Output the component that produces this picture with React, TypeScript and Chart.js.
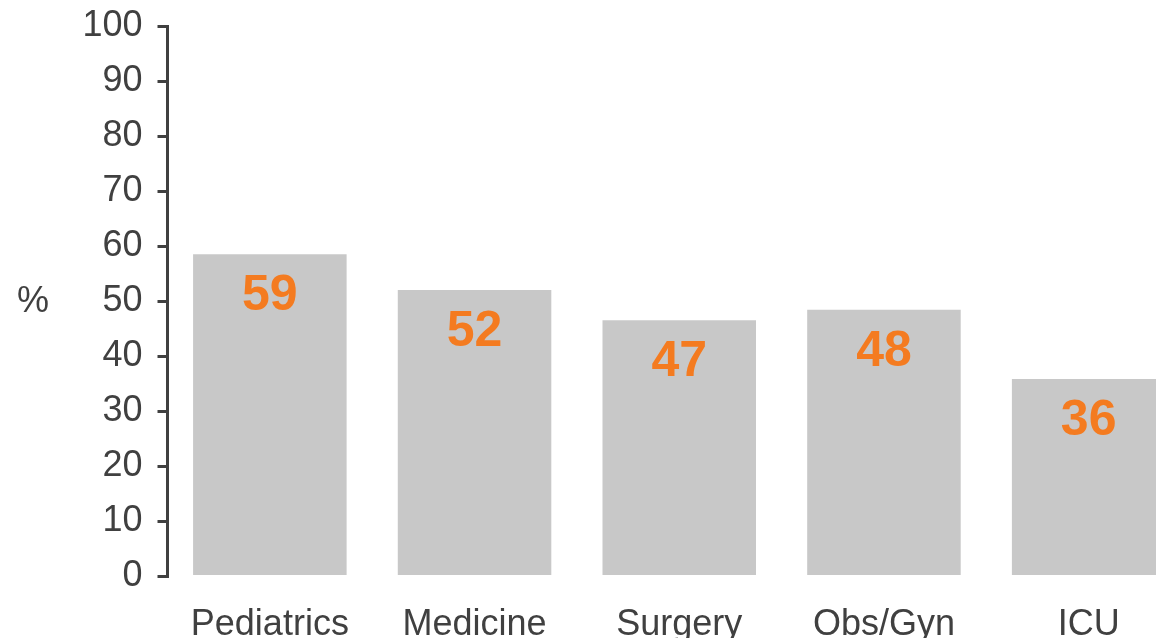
import React, { useEffect, useRef } from "react";
import { Chart, registerables } from "chart.js";

Chart.register(...registerables);

const categories = ["Pediatrics", "Medicine", "Surgery", "Obs/Gyn", "ICU"];
const values = [58.6, 52.1, 46.6, 48.5, 35.9];
const valueLabels = ["59", "52", "47", "48", "36"];
const yTicks = [0, 10, 20, 30, 40, 50, 60, 70, 80, 90, 100];
const yAxisLabel = "%";

const FONT = "'Liberation Sans', Arial, Helvetica, sans-serif";
const AXIS_COLOR = "#404040";
const BAR_COLOR = "#C8C8C8";
const VALUE_COLOR = "#F47B20";

const valuePlugin = {
  id: "valueLabels",
  afterDatasetsDraw(chart: any) {
    const ctx = chart.ctx;
    const meta = chart.getDatasetMeta(0);
    ctx.save();
    ctx.font = `bold 50px ${FONT}`;
    ctx.fillStyle = VALUE_COLOR;
    ctx.textAlign = "center";
    ctx.textBaseline = "middle";
    meta.data.forEach((bar: any, i: number) => {
      ctx.fillText(valueLabels[i], bar.x, bar.y + 42);
    });
    ctx.restore();
  },
};

const yTitlePlugin = {
  id: "yTitle",
  afterDraw(chart: any) {
    const ctx = chart.ctx;
    const area = chart.chartArea;
    ctx.save();
    ctx.font = `36px ${FONT}`;
    ctx.fillStyle = AXIS_COLOR;
    ctx.textAlign = "center";
    ctx.textBaseline = "middle";
    ctx.fillText(yAxisLabel, 33, (area.top + area.bottom) / 2 + 1);
    ctx.restore();
  },
};

export default function App() {
  const ref = useRef<HTMLCanvasElement | null>(null);

  useEffect(() => {
    if (!ref.current) return;
    const chart = new Chart(ref.current, {
      type: "bar",
      data: {
        labels: categories,
        datasets: [
          {
            data: values,
            backgroundColor: BAR_COLOR,
            borderWidth: 0,
            categoryPercentage: 0.75,
            barPercentage: 1,
          },
        ],
      },
      options: {
        animation: false,
        responsive: false,
        maintainAspectRatio: false,
        devicePixelRatio: 1,
        layout: { padding: { top: 26.5, right: 0, bottom: 0, left: 0 } },
        plugins: {
          legend: { display: false },
          tooltip: { enabled: false },
          title: { display: false },
        },
        scales: {
          x: {
            grid: { display: false },
            border: { display: false },
            ticks: {
              color: AXIS_COLOR,
              font: { family: FONT, size: 36, lineHeight: 1 },
              padding: 23,
              maxRotation: 0,
              autoSkip: false,
            },
            afterFit: (scale: any) => {
              scale.height = 61.5;
              scale.paddingLeft = 0;
              scale.paddingRight = 0;
            },
          },
          y: {
            min: 0,
            max: 100,
            afterBuildTicks: (scale: any) => {
              scale.ticks = yTicks.map((v) => ({ value: v }));
            },
            grid: {
              drawOnChartArea: false,
              drawTicks: true,
              tickLength: 10,
              color: AXIS_COLOR,
              lineWidth: 3,
            },
            border: { display: true, color: AXIS_COLOR, width: 3 },
            ticks: {
              color: AXIS_COLOR,
              font: { family: FONT, size: 36, lineHeight: 1.2 },
              padding: 15,
            },
            afterFit: (scale: any) => {
              scale.width = 167.5;
              scale.paddingTop = 0;
              scale.paddingBottom = 0;
            },
          },
        },
      },
      plugins: [valuePlugin, yTitlePlugin],
    });
    return () => chart.destroy();
  }, []);

  return (
    <div
      style={{
        position: "fixed",
        left: 0,
        top: 0,
        width: 1156,
        height: 638,
        overflow: "hidden",
        background: "#ffffff",
      }}
    >
      <canvas
        ref={ref}
        width={1191}
        height={638}
        style={{ display: "block", width: 1191, height: 638 }}
      />
    </div>
  );
}
